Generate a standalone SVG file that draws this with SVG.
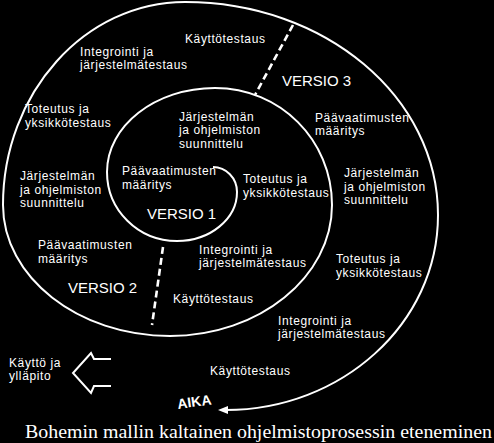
<svg xmlns="http://www.w3.org/2000/svg" width="494" height="443" viewBox="0 0 494 443">
<style>
.t{font-family:"Liberation Sans",Arial,sans-serif;font-size:12px;letter-spacing:0.6px;fill:#fff}
.v{font-family:"Liberation Sans",Arial,sans-serif;font-size:15px;fill:#fff}
.ln{fill:none;stroke:#fff;stroke-width:2}
.dash{fill:none;stroke:#fff;stroke-width:2.6;stroke-dasharray:7 4}
</style>
<defs>
<marker id="ah" viewBox="0 0 10 8" refX="2" refY="4" markerWidth="10" markerHeight="8" markerUnits="userSpaceOnUse" orient="auto">
<path d="M0,0 L10,4 L0,8 Z" fill="#fff"/>
</marker>
</defs>
<rect width="494" height="443" fill="#000"/>
<g id="connectors">
<path id="spiral" class="ln" marker-end="url(#ah)" d="M213,167 C226,167 237,178 237,192 C237,219 210,241 177,241 C138,241 107,210 107,172 C107,126 155,88 215,88 C280,88 332,140 332,205 C332,277 259,336 170,336 C78,336 3,277 3,205 C3,93 85,2 185,2 C325,2 438,97 438,215 C438,324 341,410 226,410"/>
<line class="dash" x1="293" y1="25" x2="255" y2="95"/>
<line class="dash" x1="163" y1="247" x2="152" y2="325"/>
<polyline id="bigarrow" class="ln" points="111,359 94,359 91,353 73,373 91,393 94,386 111,386"/>
</g>
<g id="version1">
<text class="t" x="122" y="175">Päävaatimusten</text>
<text class="t" x="122" y="188.5">määritys</text>
<text class="v" x="147" y="219">VERSIO 1</text>
<text class="t" x="179" y="120.5">Järjestelmän</text>
<text class="t" x="179" y="134">ja ohjelmiston</text>
<text class="t" x="179" y="147.5">suunnittelu</text>
<text class="t" x="243" y="183">Toteutus ja</text>
<text class="t" x="243" y="196.5">yksikkötestaus</text>
<text class="t" x="199" y="253.5">Integrointi ja</text>
<text class="t" x="199" y="267">järjestelmätestaus</text>
<text class="t" x="173" y="303">Käyttötestaus</text>
</g>
<g id="version2">
<text class="t" x="38" y="249">Päävaatimusten</text>
<text class="t" x="38" y="262.5">määritys</text>
<text class="v" x="68" y="293">VERSIO 2</text>
<text class="t" x="20" y="180">Järjestelmän</text>
<text class="t" x="20" y="193.5">ja ohjelmiston</text>
<text class="t" x="20" y="207">suunnittelu</text>
<text class="t" x="25" y="113">Toteutus ja</text>
<text class="t" x="25" y="126.5">yksikkötestaus</text>
<text class="t" x="80" y="55.5">Integrointi ja</text>
<text class="t" x="80" y="69">järjestelmätestaus</text>
<text class="t" x="185" y="43">Käyttötestaus</text>
</g>
<g id="version3">
<text class="v" x="282" y="86">VERSIO 3</text>
<text class="t" x="315" y="121.5">Päävaatimusten</text>
<text class="t" x="315" y="135">määritys</text>
<text class="t" x="344" y="177">Järjestelmän</text>
<text class="t" x="344" y="190.5">ja ohjelmiston</text>
<text class="t" x="344" y="204">suunnittelu</text>
<text class="t" x="336" y="263">Toteutus ja</text>
<text class="t" x="336" y="276.5">yksikkötestaus</text>
<text class="t" x="278" y="324.5">Integrointi ja</text>
<text class="t" x="278" y="338">järjestelmätestaus</text>
<text class="t" x="210" y="375">Käyttötestaus</text>
</g>
<g id="maintenance">
<text class="t" x="9" y="366.5">Käyttö ja</text>
<text class="t" x="9" y="380">ylläpito</text>
</g>
<g id="time">
<text x="178" y="409" transform="rotate(-8 178 409)" style="font-family:'Liberation Sans',Arial,sans-serif;font-size:14px;font-weight:bold;fill:#fff">AIKA</text>
</g>
<g id="caption">
<text x="25" y="438" textLength="467" lengthAdjust="spacingAndGlyphs" style="font-family:'Liberation Serif','Times New Roman',serif;font-size:18px;fill:#fff">Bohemin mallin kaltainen ohjelmistoprosessin eteneminen</text>
</g>
</svg>
